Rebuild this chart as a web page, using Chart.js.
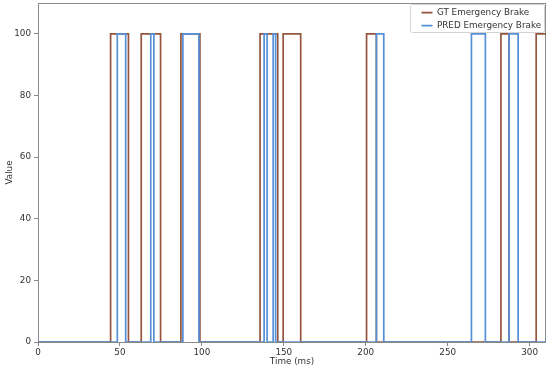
<!DOCTYPE html>
<html>
<head>
<meta charset="utf-8">
<script src="https://cdn.jsdelivr.net/npm/chart.js@4/dist/chart.umd.min.js"></script>
<style>
  html, body { margin: 0; padding: 0; background: #ffffff; }
  #wrap { width: 550px; height: 371px; }
</style>
</head>
<body>
<div id="wrap"><canvas id="c" width="550" height="371"></canvas></div>
<script>
// ---- data ----
const gtLabel = "GT Emergency Brake";
const predLabel = "PRED Emergency Brake";
const gtTime  = [0, 44.3, 55.2, 63.0, 74.8, 87.2, 98.8, 135.5, 146.3, 149.6, 160.3, 200.5, 206.5, 282.5, 287.5, 304.0, 310];
const gtValue = [0, 100,  0,    100,  0,    100,  0,    100,   0,     100,   0,     100,   0,     100,   0,     100,   100];
const predTime  = [0, 48.4, 53.5, 68.8, 70.7, 88.4, 98.2, 138.0, 139.8, 143.5, 145.0, 206.5, 211.0, 264.5, 273.0, 287.5, 293.0, 310];
const predValue = [0, 100,  0,    100,  0,    100,  0,    100,   0,     100,   0,     100,   0,     100,   0,     100,   0,     0];
const xTicks = [0, 50, 100, 150, 200, 250, 300];
const yTicks = [0, 20, 40, 60, 80, 100];
const xTitle = "Time (ms)";
const yTitle = "Value";

function toPoints(xs, ys) { return xs.map((x, i) => ({ x: x, y: ys[i] })); }

const FONT = { family: "'DejaVu Sans', sans-serif", size: 8.8 };
const TEXT = '#333333';
const SPINE = '#8a8a8a';

const framePlugin = {
  id: 'frame',
  afterLayout(chart) {
    const lg = chart.legend;
    if (lg) {
      const w = lg.width, h = lg.height;
      lg.left = 417.3; lg.top = 4.1;
      lg.right = lg.left + w; lg.bottom = lg.top + h;
    }
  },
  beforeDraw(chart) {
    const ctx = chart.ctx;
    ctx.save();
    const x = 410.5, y = 4.5, w = 134, h = 28, r = 2;
    ctx.beginPath();
    ctx.moveTo(x + r, y);
    ctx.lineTo(x + w - r, y); ctx.quadraticCurveTo(x + w, y, x + w, y + r);
    ctx.lineTo(x + w, y + h - r); ctx.quadraticCurveTo(x + w, y + h, x + w - r, y + h);
    ctx.lineTo(x + r, y + h); ctx.quadraticCurveTo(x, y + h, x, y + h - r);
    ctx.lineTo(x, y + r); ctx.quadraticCurveTo(x, y, x + r, y);
    ctx.closePath();
    ctx.fillStyle = 'rgba(255,255,255,0.85)';
    ctx.fill();
    ctx.strokeStyle = '#d4d4d4';
    ctx.lineWidth = 1;
    ctx.stroke();
    ctx.restore();
  },
  beforeDatasetsDraw(chart) {
    const a = chart.chartArea, ctx = chart.ctx;
    ctx.save();
    ctx.strokeStyle = SPINE;
    ctx.lineWidth = 1;
    ctx.strokeRect(Math.round(a.left) + 0.5, Math.round(a.top) + 0.5,
                   Math.round(a.right - a.left) - 1, Math.round(a.bottom - a.top));
    ctx.restore();
  }
};

new Chart(document.getElementById('c'), {
  type: 'line',
  data: {
    datasets: [
      {
        label: gtLabel,
        data: toPoints(gtTime, gtValue),
        borderColor: '#96553c',
        backgroundColor: '#96553c',
        borderWidth: 1.7,
        stepped: 'before',
        pointRadius: 0,
        tension: 0,
        fill: false,
        order: 1
      },
      {
        label: predLabel,
        data: toPoints(predTime, predValue),
        borderColor: '#5590d8',
        backgroundColor: '#5590d8',
        borderWidth: 1.7,
        stepped: 'before',
        pointRadius: 0,
        tension: 0,
        fill: false,
        order: 0
      }
    ]
  },
  options: {
    responsive: false,
    animation: false,
    events: [],
    layout: { padding: { left: 0, right: 4, top: 3, bottom: 0 } },
    plugins: {
      tooltip: { enabled: false },
      legend: {
        position: 'chartArea',
        align: 'start',
        labels: {
          usePointStyle: true,
          pointStyle: 'line',
          pointStyleWidth: 11,
          padding: 4.2,
          color: TEXT,
          font: FONT,
          sort: (a, b) => a.datasetIndex - b.datasetIndex
        }
      }
    },
    scales: {
      x: {
        type: 'linear',
        min: 0,
        max: 310,
        afterBuildTicks: (s) => { s.ticks = xTicks.map(v => ({ value: v })); },
        afterFit: (s) => { s.height = 29; s.paddingLeft = 0; s.paddingRight = 0; },
        ticks: { color: TEXT, font: FONT, padding: 1, maxRotation: 0 },
        grid: { display: true, drawOnChartArea: false, drawTicks: true, tickLength: 4, color: SPINE },
        border: { display: false },
        title: { display: true, text: xTitle, color: TEXT, font: FONT, padding: { top: 0, bottom: 4 } }
      },
      y: {
        type: 'linear',
        min: 0,
        max: 110,
        afterBuildTicks: (s) => { s.ticks = yTicks.map(v => ({ value: v })); },
        afterFit: (s) => { s.width = 38; s.paddingTop = 0; s.paddingBottom = 0; },
        ticks: { color: TEXT, font: FONT, padding: 3 },
        grid: { display: true, drawOnChartArea: false, drawTicks: true, tickLength: 4, color: SPINE },
        border: { display: false },
        title: { display: true, text: yTitle, color: TEXT, font: FONT, padding: { top: 4, bottom: 0 } }
      }
    }
  },
  plugins: [framePlugin]
});
</script>
</body>
</html>
